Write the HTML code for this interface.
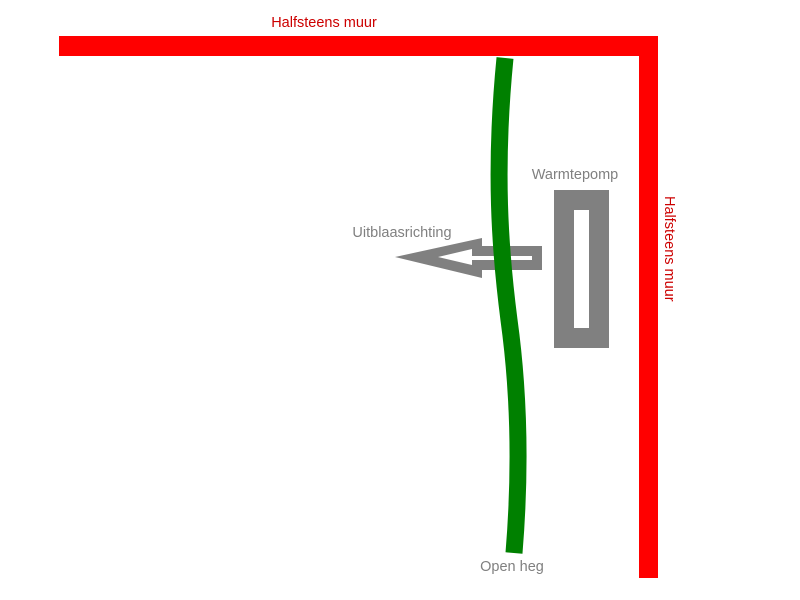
<!DOCTYPE html>
<html><head><style>body{margin:0;background:#fff}svg{display:block}text{font-family:"Liberation Sans",sans-serif;font-size:14.5px}</style></head><body>
<svg width="800" height="600" viewBox="0 0 800 600">
<rect x="59" y="36" width="599" height="20" fill="#ff0000"/>
<rect x="639" y="36" width="19" height="542" fill="#ff0000"/>
<text x="324" y="27" fill="#cc0000" text-anchor="middle">Halfsteens muur</text>
<text transform="translate(665,196) rotate(90)" fill="#cc0000">Halfsteens muur</text>
<rect x="554" y="190" width="55" height="158" fill="#808080"/>
<rect x="574" y="210" width="15" height="118" fill="#fff"/>
<text x="575" y="179" fill="#808080" text-anchor="middle">Warmtepomp</text>
<polygon points="395,257 482,238 482,246 542,246 542,270 482,270 482,278" fill="#808080"/>
<polygon points="438,257 472,249 472,256 532,256 532,260 472,260 472,265" fill="#fff"/>
<text x="402" y="237" fill="#808080" text-anchor="middle">Uitblaasrichting</text>
<path d="M505,58 C494,170 500,250 509,320 C520,400 520,480 514,553" stroke="#008000" stroke-width="17" fill="none"/>
<text x="512" y="571" fill="#808080" text-anchor="middle">Open heg</text>
</svg>
</body></html>
